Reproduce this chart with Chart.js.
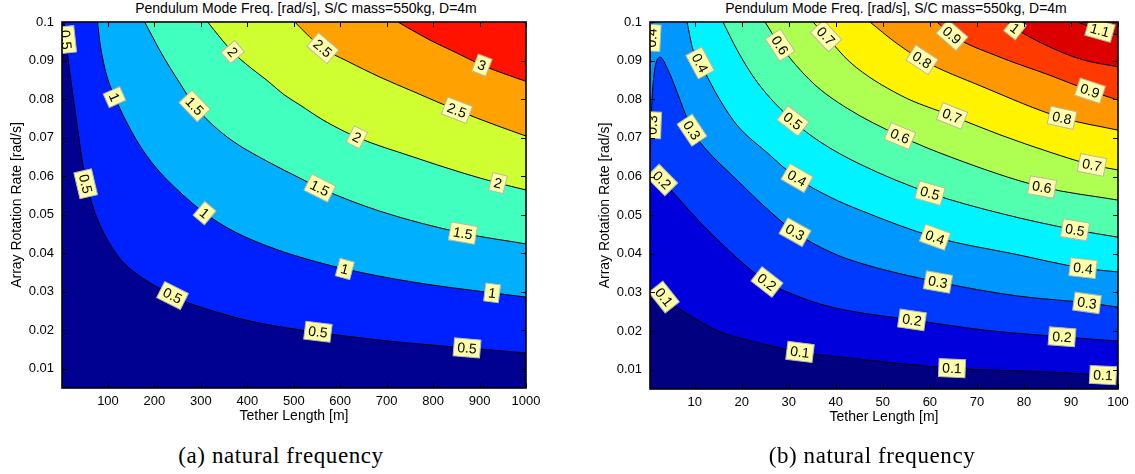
<!DOCTYPE html>
<html lang="en">
<head>
  <meta charset="UTF-8">
  <title>Pendulum Mode Freq.</title>
  <script src="https://cdn.jsdelivr.net/npm/chart.js"></script>
  <style>
    body { margin: 0; width: 1135px; height: 474px; overflow: hidden; background: #fff; position: relative; }
    canvas { position: absolute; top: 0; }
    #graphA { left: 0; }
    #graphB { left: 588px; }
    .title { position: absolute; top: 0; width: 500px; height: 16px; line-height: 16px; text-align: center;
             font-family: "Liberation Sans", Arial, sans-serif; font-size: 14px; color: #000; white-space: nowrap; }
    .caption { position: absolute; top: 443px; width: 400px; height: 26px; line-height: 26px; text-align: center;
               font-family: "Liberation Serif", "Times New Roman", serif; font-size: 23px; letter-spacing: 0.6px; color: #000; }
  </style>
</head>
<body>

<div class="title" style="left:56px">Pendulum Mode Freq. [rad/s], S/C mass=550kg, D=4m</div>
<div class="title" style="left:646px">Pendulum Mode Freq. [rad/s], S/C mass=550kg, D=4m</div>
<canvas id="graphA" width="612" height="440"></canvas>
<canvas id="graphB" width="616" height="440"></canvas>
<div class="caption" style="left:81px">(a) natural frequency</div>
<div class="caption" style="left:672px">(b) natural frequency</div>

<script>
const yTicks = [0.01, 0.02, 0.03, 0.04, 0.05, 0.06, 0.07, 0.08, 0.09, 0.1];
const xTicksA = [100, 200, 300, 400, 500, 600, 700, 800, 900, 1000];
const xTicksB = [10, 20, 30, 40, 50, 60, 70, 80, 90, 100];

// (a) contour levels and the lines: [tether length, rotation rate]
const levelsA = [0.5, 1, 1.5, 2, 2.5, 3];
const lineA05 = [[5.4,0.1],[10.8,0.094],[17.2,0.0875],[24.8,0.0808],[33.4,0.0735],[40.9,0.0668],[49.6,0.0606],[60.3,0.0551],[75.4,0.0494],[97,0.0439],[125,0.0387],[168,0.0341],[226,0.0299],[269,0.0273],[304,0.0258],[405,0.0224],[513,0.0201],[728,0.0169],[873,0.0154],[1000,0.0141]];
const lineA10 = [[77.6,0.1],[81.9,0.0953],[88.4,0.0907],[97,0.0862],[109.9,0.0818],[125,0.0777],[146.6,0.0725],[174.6,0.0668],[211.2,0.0611],[254.3,0.0559],[308.2,0.0504],[368.5,0.0458],[441.8,0.0419],[512.9,0.039],[609.9,0.0359],[756.5,0.0325],[926.7,0.0297],[1000,0.0286]];
const lineA15 = [[178.9,0.1],[194,0.0966],[211.2,0.0927],[232.8,0.0883],[254.3,0.0842],[286.6,0.0782],[325.4,0.0733],[368.5,0.0691],[441.8,0.0639],[512.9,0.0595],[556,0.0569],[685.3,0.0509],[864.2,0.0452],[1000,0.0424]];
const lineA20 = [[314.7,0.1],[340.5,0.0961],[368.5,0.0922],[405.2,0.0883],[441.8,0.0849],[480.6,0.081],[512.9,0.0785],[562.5,0.0746],[635.8,0.0701],[756.5,0.065],[864.2,0.0608],[939.7,0.0582],[1000,0.0564]];
const lineA25 = [[502.2,0.1],[534.5,0.0961],[562.5,0.0932],[614.2,0.0899],[685.3,0.0857],[756.5,0.082],[851.3,0.0771],[937.5,0.0731],[1000,0.0704]];
const lineA30 = [[724.1,0.1],[793.1,0.0953],[847,0.0922],[905.2,0.0888],[954.7,0.0865],[1000,0.0846]];
// inline labels: [level, x, y]
const labelsA = [
  [0.5,10,0.0954],[0.5,52,0.058],[0.5,239,0.029],[0.5,552,0.0196],[0.5,873,0.0154],
  [1,114,0.0805],[1,308,0.0504],[1,610,0.0359],[1,927,0.0297],
  [1.5,286.6,0.0782],[1.5,556,0.0569],[1.5,864.2,0.0452],
  [2,368.5,0.0922],[2,635.8,0.0701],[2,939.7,0.0582],
  [2.5,562.5,0.0932],[2.5,851.3,0.0771],
  [3,905.2,0.0888]
];

// (b)
const levelsB = [0.1, 0.2, 0.3, 0.4, 0.5, 0.6, 0.7, 0.8, 0.9, 1, 1.1];
const lineB01 = [[0.5,0.0301],[0.93,0.0306],[1.78,0.0314],[3.48,0.0288],[6.24,0.0262],[10.49,0.0229],[15.38,0.0198],[21.12,0.0177],[32.39,0.0146],[43.02,0.013],[64.71,0.0104],[85.54,0.0094],[96.81,0.0086],[100,0.0084]];
const lineB02 = [[0.5,0.0596],[1.35,0.0612],[3.05,0.0591],[6.88,0.0539],[11.13,0.0482],[16.02,0.0423],[20.7,0.0371],[25.37,0.0327],[31.75,0.0291],[36.64,0.027],[43.02,0.0252],[56.2,0.0229],[71.3,0.0203],[88.09,0.0185],[100,0.0174]];
const lineB03 = [[0.5,0.0643],[0.71,0.072],[0.93,0.0798],[1.35,0.0863],[1.78,0.0894],[2.63,0.0909],[4.33,0.0876],[6.24,0.0819],[7.94,0.0764],[9.43,0.072],[11.13,0.0689],[13.89,0.0651],[19,0.0591],[24.52,0.0526],[31.33,0.0456],[38.77,0.0405],[45.15,0.0376],[61.73,0.0327],[78.53,0.0291],[93.41,0.0273],[100,0.0262]];
const lineB04 = [[8.37,0.1],[9.64,0.0928],[11.13,0.0894],[15.38,0.0798],[19,0.0733],[25.37,0.0662],[31.75,0.0596],[38.77,0.0547],[45.15,0.0513],[61.09,0.0443],[78.53,0.0398],[92.56,0.0363],[100,0.0353]];
const lineB04edge = [[0.5,0.0902],[0.71,0.095],[0.93,0.1]];
const lineB05 = [[16.02,0.1],[19,0.0928],[23.25,0.0845],[30.9,0.0744],[36.64,0.069],[45.15,0.0632],[60.03,0.0557],[74.91,0.0505],[90.86,0.0462],[100,0.0443]];
const lineB06 = [[24.95,0.1],[28.14,0.094],[35.15,0.0842],[42.38,0.0777],[53.65,0.0705],[64.28,0.0651],[83.84,0.0573],[100,0.0539]];
const lineB07 = [[35.15,0.1],[37.92,0.0964],[43.02,0.0896],[53.65,0.0811],[64.71,0.0757],[74.91,0.0708],[85.54,0.0663],[94.47,0.063],[100,0.0617]];
const lineB08 = [[47.27,0.1],[52.59,0.0948],[58.33,0.0902],[71.3,0.0832],[88.09,0.0752],[100,0.072]];
const lineB09 = [[61.52,0.1],[64.71,0.0966],[74.91,0.0909],[85.54,0.0862],[94.05,0.0822],[100,0.0798]];
const lineB10 = [[76.4,0.1],[78.1,0.0984],[85.54,0.0935],[92.56,0.0902],[100,0.0884]];
const lineB11 = [[91.28,0.1],[96.17,0.0979],[100,0.0966]];
const labelsB = [
  [0.1,3.48,0.0288],[0.1,32.39,0.0146],[0.1,64.71,0.0104],[0.1,96.81,0.0086],
  [0.2,3.05,0.0591],[0.2,25.37,0.0327],[0.2,56.2,0.0229],[0.2,88.09,0.0185],
  [0.3,0.93,0.0733],[0.3,9.43,0.072],[0.3,31.33,0.0456],[0.3,61.73,0.0327],[0.3,93.41,0.0273],
  [0.4,0.8,0.0959],[0.4,11.13,0.0894],[0.4,31.75,0.0596],[0.4,61.09,0.0443],[0.4,92.56,0.0363],
  [0.5,30.9,0.0744],[0.5,60.03,0.0557],[0.5,90.86,0.0462],
  [0.6,28.14,0.094],[0.6,53.65,0.0705],[0.6,83.84,0.0573],
  [0.7,37.92,0.0964],[0.7,64.71,0.0757],[0.7,94.47,0.063],
  [0.8,58.33,0.0902],[0.8,88.09,0.0752],
  [0.9,64.71,0.0966],[0.9,94.05,0.0822],
  [1,78.1,0.0984],
  [1.1,96.17,0.0979]
];

// jet colours of the filled bands, lowest band first
const bandsA = ['#000091', '#0021ff', '#00b0ff', '#40ffbf', '#cfff30', '#ffa100', '#ff1200'];
const bandsB = ['#000080', '#0000dc', '#003aff', '#0097ff', '#00f3ff', '#51ffae', '#aeff51', '#fff300', '#ff9700', '#ff3a00', '#dc0000', '#b00000'];

Chart.defaults.font.family = '"Liberation Sans", Arial, sans-serif';
Chart.defaults.font.size = 13;
Chart.defaults.color = '#000';

function contourChart(canvasId, levels, lines, labels, bands, xMin, xMax, xTicks, bottomPad) {
  const datasets = lines.map(([level, pts]) => {
    const i = levels.indexOf(level);
    return {
      label: String(level),
      data: pts.map(p => ({ x: p[0], y: p[1] })),
      borderColor: '#000',
      borderWidth: 1,
      pointRadius: 0,
      cubicInterpolationMode: 'monotone',
      fill: 'end',
      backgroundColor: bands[i + 1],
      order: levels.length - i
    };
  });

  const background = {
    id: 'background',
    beforeDatasetsDraw(chart) {
      const { ctx, chartArea: a } = chart;
      ctx.save();
      ctx.fillStyle = bands[0];
      ctx.fillRect(a.left, a.top, a.width, a.height);
      ctx.restore();
    }
  };

  const inlineLabels = {
    id: 'inlineLabels',
    afterDatasetsDraw(chart) {
      const { ctx, chartArea: a, scales: { x, y } } = chart;
      ctx.save();
      ctx.beginPath();
      ctx.rect(a.left, a.top, a.width, a.height);
      ctx.clip();
      ctx.font = '14px "Liberation Sans", Arial, sans-serif';
      labels.forEach(([level, lx, ly]) => {
        const px = x.getPixelForValue(lx), py = y.getPixelForValue(ly);
        // direction of the nearest piece of the contour
        let best = Infinity, ang = 0;
        lines.filter(l => l[0] === level).forEach(([, pts]) => {
          for (let k = 0; k < pts.length - 1; k++) {
            const x1 = x.getPixelForValue(pts[k][0]), y1 = y.getPixelForValue(pts[k][1]);
            const x2 = x.getPixelForValue(pts[k + 1][0]), y2 = y.getPixelForValue(pts[k + 1][1]);
            const d = Math.hypot((x1 + x2) / 2 - px, (y1 + y2) / 2 - py);
            if (d < best) { best = d; ang = Math.atan2(y2 - y1, x2 - x1); }
          }
        });
        if (ang > Math.PI / 2) ang -= Math.PI;
        if (ang < -Math.PI / 2) ang += Math.PI;
        const txt = String(level);
        const w = ctx.measureText(txt).width + 7, h = 18;
        ctx.save();
        ctx.translate(px, py);
        ctx.rotate(ang);
        ctx.fillStyle = '#ffffaa';
        ctx.fillRect(-w / 2, -h / 2, w, h);
        ctx.strokeStyle = '#b8b8a8';
        ctx.lineWidth = 1;
        ctx.strokeRect(-w / 2, -h / 2, w, h);
        ctx.fillStyle = '#000';
        ctx.textAlign = 'center';
        ctx.textBaseline = 'middle';
        ctx.fillText(txt, 0, 1);
        ctx.restore();
      });
      ctx.restore();
    }
  };

  const frame = {
    id: 'frame',
    afterDraw(chart) {
      const { ctx, chartArea: a, scales: { x, y } } = chart;
      ctx.save();
      ctx.strokeStyle = '#000';
      ctx.lineWidth = 1;
      ctx.beginPath();
      x.ticks.forEach(t => {
        const p = Math.round(x.getPixelForValue(t.value)) + 0.5;
        ctx.moveTo(p, a.bottom); ctx.lineTo(p, a.bottom - 5);
        ctx.moveTo(p, a.top); ctx.lineTo(p, a.top + 5);
      });
      y.ticks.forEach(t => {
        const p = Math.round(y.getPixelForValue(t.value)) + 0.5;
        ctx.moveTo(a.left, p); ctx.lineTo(a.left + 5, p);
        ctx.moveTo(a.right, p); ctx.lineTo(a.right - 5, p);
      });
      ctx.stroke();
      ctx.lineWidth = 1.6;
      ctx.strokeRect(a.left, a.top, a.width, a.height);
      ctx.restore();
    }
  };

  return new Chart(document.getElementById(canvasId), {
    type: 'line',
    data: { datasets },
    options: {
      responsive: false,
      animation: false,
      layout: { padding: { left: 0, right: 86, top: 22, bottom: bottomPad } },
      plugins: {
        legend: { display: false },
        tooltip: { enabled: false },
        title: { display: false }
      },
      scales: {
        x: {
          type: 'linear',
          min: xMin,
          max: xMax,
          grid: { display: false },
          border: { display: false },
          afterBuildTicks: s => { s.ticks = xTicks.map(v => ({ value: v })); },
          afterFit: s => { s.height = 37; },
          ticks: { padding: -2, autoSkip: false, maxRotation: 0, color: '#000', callback: v => String(v) },
          title: { display: true, text: 'Tether Length [m]', color: '#000', font: { size: 14 }, padding: 0 }
        },
        y: {
          type: 'linear',
          min: 0.005,
          max: 0.1,
          grid: { display: false },
          border: { display: false },
          afterBuildTicks: s => { s.ticks = yTicks.map(v => ({ value: v })); },
          afterFit: s => { s.width = 62; },
          ticks: { padding: 0, autoSkip: false, color: '#000', callback: v => String(v) },
          title: { display: true, text: 'Array Rotation Rate [rad/s]', color: '#000', font: { size: 14 }, padding: { top: 9, bottom: 0 } }
        }
      }
    },
    plugins: [background, inlineLabels, frame]
  });
}

contourChart('graphA', levelsA,
  [[0.5, lineA05], [1, lineA10], [1.5, lineA15], [2, lineA20], [2.5, lineA25], [3, lineA30]],
  labelsA, bandsA, 1, 1000, xTicksA, 15);

contourChart('graphB', levelsB,
  [[0.1, lineB01], [0.2, lineB02], [0.3, lineB03], [0.4, lineB04], [0.4, lineB04edge], [0.5, lineB05],
   [0.6, lineB06], [0.7, lineB07], [0.8, lineB08], [0.9, lineB09], [1, lineB10], [1.1, lineB11]],
  labelsB, bandsB, 0.5, 100, xTicksB, 14);
</script>

</body>
</html>
